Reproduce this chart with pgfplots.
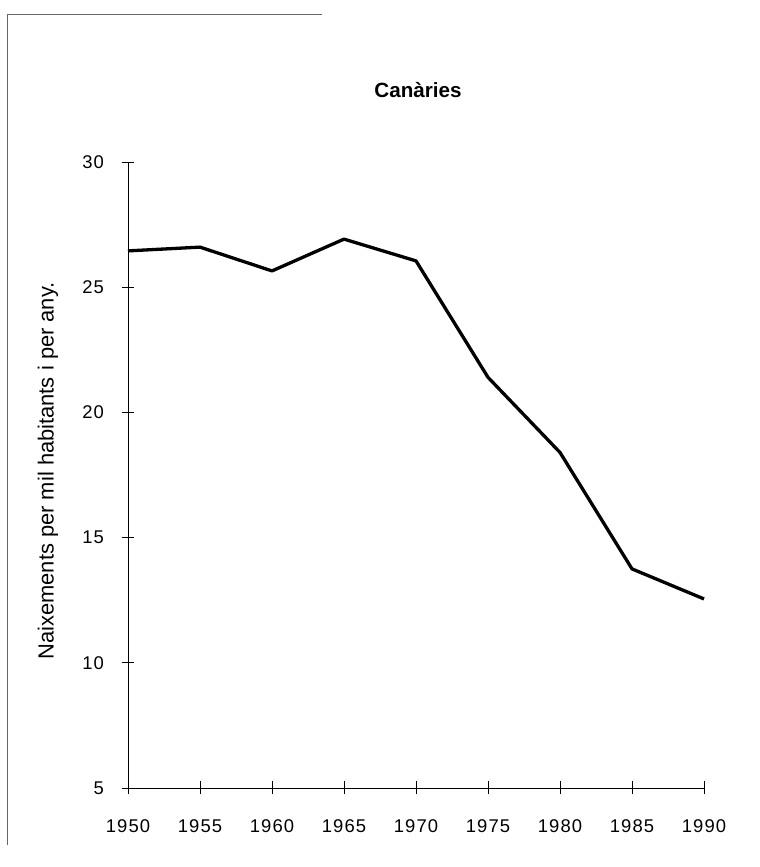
\documentclass[border=0pt]{standalone}
\usepackage{fontspec}
\setmainfont{Liberation Sans}
\usepackage{pgfplots}
\pgfplotsset{compat=1.18}
\begin{document}
\begin{tikzpicture}
\path (0bp,0bp) rectangle (760bp,867bp);
\draw[black!60, line width=0.8bp] (7bp,853bp) -- (322bp,853bp);
\draw[black!60, line width=0.8bp] (7bp,853bp) -- (7bp,22bp);
\begin{axis}[
  at={(128bp,79bp)}, anchor=south west,
  scale only axis, width=576bp, height=626bp,
  xmin=1950, xmax=1990, ymin=5, ymax=30,
  axis x line*=bottom, axis y line*=left,
  axis line style={black, line width=0.8bp},
  xtick={1950,1955,...,1990}, ytick={5,10,...,30},
  tick align=center, major tick length=13bp,
  tick style={black, line width=0.8bp},
  /pgf/number format/1000 sep={},
  /pgf/number format/assume math mode=true,
  ticklabel style={font=\fontsize{18.5}{22}\selectfont\addfontfeatures{LetterSpace=6}},
  xticklabel style={yshift=-22bp},
  yticklabel style={xshift=-14bp},
  clip=false,
]
\addplot[black, line width=3.3bp, line join=round] coordinates {
(1950,26.45) (1955,26.6) (1960,25.65) (1965,26.92) (1970,26.05)
(1975,21.4) (1980,18.4) (1985,13.75) (1990,12.55)};
\end{axis}
\node[font=\bfseries\fontsize{20.7}{24}\selectfont] at (418bp,777bp) {Canàries};
\node[rotate=90, font=\fontsize{22}{26}\selectfont] at (48bp,396bp) {Naixements per mil habitants i per any.};
\end{tikzpicture}
\end{document}
